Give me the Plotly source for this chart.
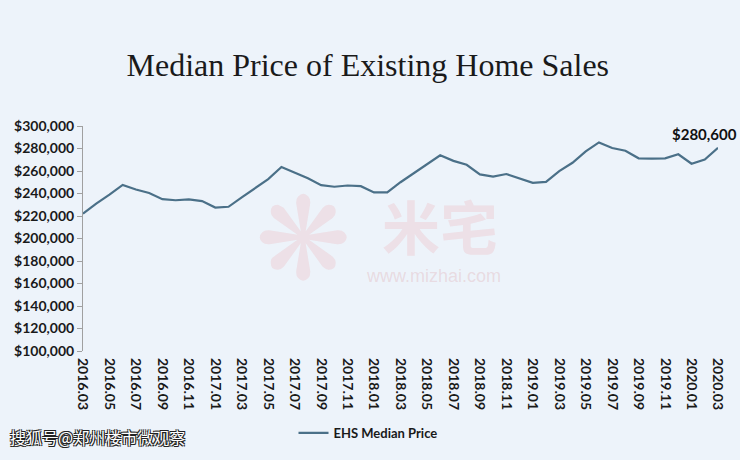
import plotly.graph_objects as go

# monthly median price, 2016.03 - 2020.03
months = [f"{y}.{m:02d}" for y, m in
          [(2016, m) for m in range(3, 13)] + [(2017, m) for m in range(1, 13)] +
          [(2018, m) for m in range(1, 13)] + [(2019, m) for m in range(1, 13)] +
          [(2020, m) for m in range(1, 4)]]
prices = [222000, 231000, 239000, 247600, 243500, 240500, 235000, 234000, 234800, 233300,
          227500, 228200, 236500, 245000, 252800, 263500, 258300, 253500, 247400, 246000,
          247100, 246500, 241000, 241000, 250000, 258000, 265500, 274000, 269000, 265500,
          257000, 255000, 257300, 253700, 249500, 250300, 259900, 267300, 277500, 285400,
          280400, 278000, 271300, 271000, 271300, 274900, 266500, 270200, 280600]
tick_labels = months[::2]
y_ticks = list(range(100000, 300001, 20000))

label_font = dict(family="Lato, Carlito, sans-serif", size=14, color="#1a1a1a")

# pixel -> paper helpers (plot area 83..718 x 126..354)
def px(x):
    return (x - 83) / 635

def py(y):
    return (354 - y) / 228

fig = go.Figure()
fig.add_trace(go.Scatter(x=months, y=prices, mode="lines", name="<b>EHS Median Price</b>",
                         line=dict(color="#4b7088", width=2.2)))

# final value label (category axis -> use index)
fig.add_annotation(x=len(months) - 1, y=prices[-1], text=f"<b>${prices[-1]:,}</b>",
                   showarrow=False, xanchor="center", yanchor="bottom", xshift=-14, yshift=3,
                   font=dict(family="Lato, sans-serif", size=15, color="#111"))

# mizhai watermark
pink = "rgba(238,130,135,0.17)"
fig.add_annotation(x=px(303), y=py(240), xref="paper", yref="paper", text="❋", showarrow=False,
                   font=dict(family="DejaVu Sans", size=115, color=pink))
fig.add_annotation(x=px(440), y=py(226), xref="paper", yref="paper", text="<b>米宅</b>",
                   showarrow=False,
                   font=dict(family="Noto Sans CJK SC", size=58, color=pink))
fig.add_annotation(x=px(434), y=py(290), xref="paper", yref="paper", text="www.mizhai.com",
                   showarrow=False,
                   font=dict(family="Liberation Sans", size=18, color="rgba(220,160,165,0.3)"))

# sohu credit (white text with dark outline)
fig.add_annotation(x=px(8), y=py(441), xref="paper", yref="paper",
                   text="搜狐号@郑州楼市微观察", showarrow=False, xanchor="left", yanchor="middle",
                   font=dict(family="Noto Sans CJK SC", size=16, color="#ffffff",
                             shadow="-1px -1px 0 #222, 1px -1px 0 #222, -1px 1px 0 #222, 1px 1px 0 #222"))

fig.update_layout(
    width=740, height=460,
    margin=dict(l=83, r=22, t=126, b=106),
    paper_bgcolor="#edf3fa", plot_bgcolor="rgba(0,0,0,0)",
    title=dict(text="Median Price of Existing Home Sales", x=0.497, xanchor="center",
               y=1 - 65 / 460, yanchor="middle",
               font=dict(family="Liberation Serif, serif", size=32, color="#1a1a1a")),
    showlegend=True,
    legend=dict(orientation="h", x=px(368), xanchor="center", y=py(437),
                yanchor="middle", bgcolor="rgba(0,0,0,0)",
                font=dict(family="Lato, sans-serif", size=13, color="#1a1a1a"),
                itemwidth=30),
)
fig.update_xaxes(type="category", range=[0, len(months) - 1], tickmode="array",
                 tickvals=tick_labels, ticktext=[f"<b>{t}</b>" for t in tick_labels],
                 tickangle=90, showgrid=False, zeroline=False, showline=False,
                 ticks="", tickfont=label_font, ticklabelstandoff=6)
fig.update_yaxes(range=[100000, 300000], tickmode="array", tickvals=y_ticks,
                 ticktext=[f"<b>${v:,}</b>" for v in y_ticks],
                 showgrid=False, zeroline=False, showline=True, linecolor="#a0a0a0",
                 linewidth=1, ticks="outside", ticklen=5, tickcolor="#a0a0a0",
                 tickfont=label_font)

fig.write_html("out.html", config={"displayModeBar": False},
               post_script="document.body.style.margin='0';")
